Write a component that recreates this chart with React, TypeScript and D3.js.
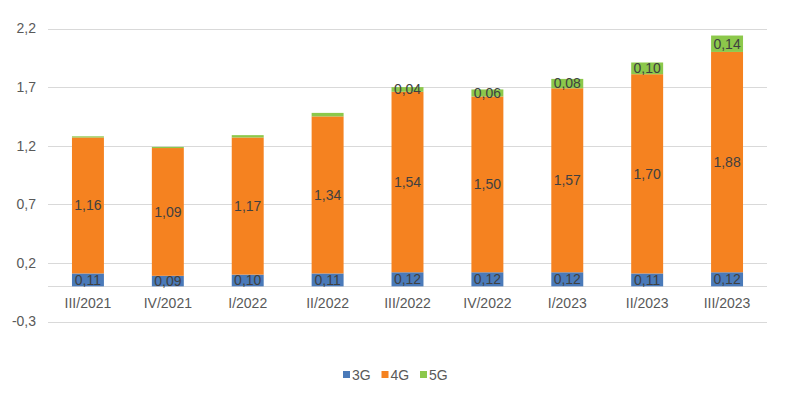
import React, { useRef, useEffect } from "react";
import * as d3 from "d3";

const categories = ["III/2021", "IV/2021", "I/2022", "II/2022", "III/2022", "IV/2022", "I/2023", "II/2023", "III/2023"];
const g3 = [0.11, 0.09, 0.1, 0.11, 0.12, 0.12, 0.12, 0.11, 0.12];
const g4 = [1.16, 1.09, 1.17, 1.34, 1.54, 1.5, 1.57, 1.7, 1.88];
const g5 = [0.01, 0.01, 0.02, 0.03, 0.04, 0.06, 0.08, 0.1, 0.14];
const showLabel5 = [false, false, false, false, true, true, true, true, true];
const yTicks = [-0.3, 0.2, 0.7, 1.2, 1.7, 2.2];
const seriesNames = ["3G", "4G", "5G"];
const colors = ["#4A7AB9", "#F58220", "#8CC84B"];

const font = "'Liberation Sans Narrow', 'Arial Narrow', Arial, 'Liberation Sans', sans-serif";
const fmt = (v: number) => v.toFixed(2).replace(".", ",");

const App = () => {
  const ref = useRef<SVGSVGElement>(null);

  useEffect(() => {
    const svg = d3.select(ref.current);
    svg.selectAll("*").remove();
    const width = 791;
    const height = 398;
    const left = 48;
    const right = 767;

    svg.attr("width", width).attr("height", height);
    svg.append("rect").attr("width", width).attr("height", height).attr("fill", "#fff");

    const x = d3.scaleBand().domain(categories).range([left, right]).paddingInner(0.6).paddingOuter(0.3);
    const y = d3.scaleLinear().domain([-0.3, 2.2]).range([321.5, 28.5]);

    // grid
    svg.append("g")
      .selectAll("line")
      .data(yTicks)
      .enter()
      .append("line")
      .attr("x1", left)
      .attr("x2", right)
      .attr("y1", (d) => Math.round(y(d)) + 0.5)
      .attr("y2", (d) => Math.round(y(d)) + 0.5)
      .attr("stroke", "#d9d9d9");

    svg.append("g")
      .selectAll("text")
      .data(yTicks)
      .enter()
      .append("text")
      .attr("x", 36)
      .attr("y", (d) => y(d))
      .attr("dy", "0.35em")
      .attr("text-anchor", "end")
      .style("font-family", font)
      .style("font-size", "14px")
      .attr("fill", "#595959")
      .text((d) => d.toFixed(1).replace(".", ","));

    // zero line
    svg.append("line")
      .attr("x1", left)
      .attr("x2", right)
      .attr("y1", Math.round(y(0)) + 0.5)
      .attr("y2", Math.round(y(0)) + 0.5)
      .attr("stroke", "#d9d9d9");

    const rows = categories.map((c, i) => ({ cat: c, s0: g3[i], s1: g4[i], s2: g5[i], idx: i }));
    const stack = d3.stack<any>().keys(["s0", "s1", "s2"]);
    const layers = stack(rows);

    layers.forEach((layer, li) => {
      const g = svg.append("g");
      g.selectAll("rect")
        .data(layer)
        .enter()
        .append("rect")
        .attr("x", (d) => x(d.data.cat)!)
        .attr("width", x.bandwidth())
        .attr("y", (d) => y(d[1]))
        .attr("height", (d) => y(d[0]) - y(d[1]))
        .attr("fill", colors[li]);

      g.selectAll("text")
        .data(layer.filter((d) => li !== 2 || showLabel5[d.data.idx]))
        .enter()
        .append("text")
        .attr("x", (d) => x(d.data.cat)! + x.bandwidth() / 2)
        .attr("y", (d) => y((d[0] + d[1]) / 2))
        .attr("dy", "0.35em")
        .attr("text-anchor", "middle")
        .style("font-family", font)
        .style("font-size", "14px")
        .attr("fill", "#404040")
        .text((d) => fmt(d[1] - d[0]));
    });

    // x labels
    svg.append("g")
      .selectAll("text")
      .data(categories)
      .enter()
      .append("text")
      .attr("x", (d) => x(d)! + x.bandwidth() / 2)
      .attr("y", 303)
      .attr("dy", "0.35em")
      .attr("text-anchor", "middle")
      .style("font-family", font)
      .style("font-size", "14px")
      .attr("fill", "#595959")
      .text((d) => d);

    // legend
    const legend = svg.append("g").attr("transform", "translate(343, 375)");
    seriesNames.forEach((name, i) => {
      const item = legend.append("g").attr("transform", `translate(${i * 38.5}, 0)`);
      item.append("rect").attr("x", 0).attr("y", -4).attr("width", 7).attr("height", 7).attr("fill", colors[i]);
      item.append("text")
        .attr("x", 9)
        .attr("y", 0)
        .attr("dy", "0.35em")
        .style("font-family", font)
        .style("font-size", "14px")
        .attr("fill", "#595959")
        .text(name);
    });
  }, []);

  return <svg ref={ref} style={{ position: "absolute", left: 0, top: 0 }}></svg>;
};

export default App;
